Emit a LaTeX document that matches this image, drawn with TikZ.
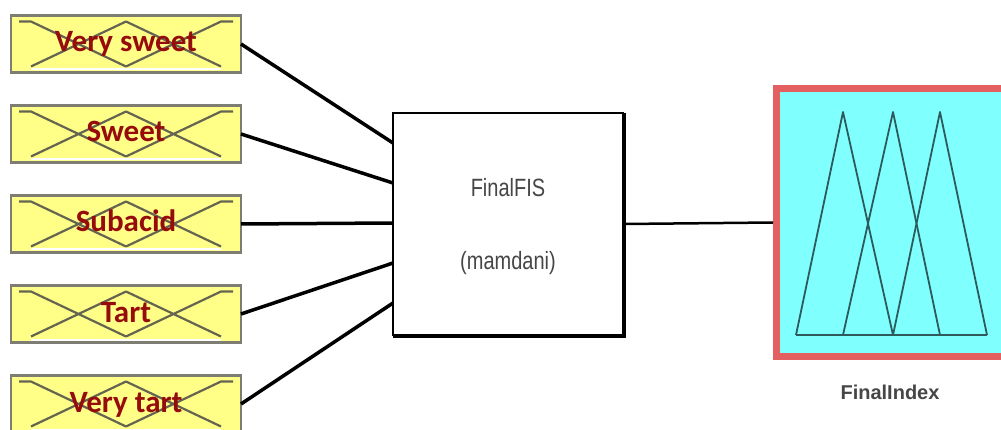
\documentclass[tikz,border=0pt]{standalone}
\usepackage{graphicx}
\usepackage{fontspec}
\setmainfont{Liberation Sans}
\newfontfamily\calib{Carlito}
\usetikzlibrary{calc}
\definecolor{inyellow}{RGB}{255,255,136}
\definecolor{inborder}{RGB}{125,125,115}
\definecolor{mfline}{RGB}{100,100,80}
\definecolor{labred}{RGB}{150,12,12}
\definecolor{outcyan}{RGB}{128,255,255}
\definecolor{outred}{RGB}{228,96,96}
\definecolor{tri}{RGB}{45,90,90}
\definecolor{fistext}{RGB}{70,70,70}
\begin{document}
\begin{tikzpicture}[x=1pt,y=-1pt,
  inbox/.style={draw=inborder, line width=2.5pt, fill=inyellow, minimum width=230pt, minimum height=57pt, inner sep=0pt, outer sep=0pt},
  mfl/.style={draw=mfline, line width=2.2pt, line join=round},
  inlabel/.style={text=labred, font=\calib\bfseries\fontsize{31}{32}\selectfont, inner sep=0pt, anchor=base},
  conn/.style={draw=black, line width=3.5pt},
  fisbox/.style={draw=black, line width=2.5pt, fill=white, minimum width=230pt, minimum height=222pt, inner sep=0pt, outer sep=1.25pt},
  fistxt/.style={text=fistext, font=\fontsize{20}{22}\selectfont, inner sep=0pt},
  outbox/.style={draw=outred, line width=7pt, fill=outcyan, minimum width=230pt, minimum height=268pt, inner sep=0pt, outer sep=3.5pt},
  trl/.style={draw=tri, line width=1.8pt, line join=round},
  outlabel/.style={text=fistext, font=\bfseries\fontsize{20}{22}\selectfont, inner sep=0pt}
]
\useasboundingbox (0,0) rectangle (1001,430);
\clip (0,0) rectangle (1001,430);

% input variables
\foreach \i/\t/\cy in {1/Very sweet/44, 2/Sweet/134, 3/Subacid/224, 4/Tart/314, 5/Very tart/404} {
  \node[inbox] (in\i) at (126,\cy) {};
  \coordinate (tl\i) at ($(in\i.north west)+(20,6)$);
  \coordinate (bl\i) at ($(in\i.south west)+(20,-6)$);
  \coordinate (tm\i) at ($(in\i.north)+(0,6)$);
  \coordinate (bm\i) at ($(in\i.south)+(0,-6)$);
  \coordinate (tr\i) at ($(in\i.north east)+(-20,6)$);
  \coordinate (br\i) at ($(in\i.south east)+(-20,-6)$);
  \draw[white, line width=2pt] ($(bl\i)+(0,3)$) -- ($(br\i)+(0,3)$);
  \draw[mfl] ($(in\i.north west)+(8,6)$) -- (tl\i) -- (bm\i);
  \draw[mfl] (bl\i) -- (tm\i) -- (br\i);
  \draw[mfl] (bm\i) -- (tr\i) -- ($(in\i.north east)+(-8,6)$);
  \node[inlabel] (lab\i) at (126,\cy+8) {\t};
}

% FIS block
\node[fisbox] (fis) at (508,224) {};
\draw[black, line width=2.5pt] ($(fis.north east)+(0.3,1)$) -- ($(fis.south east)+(0.3,0.3)$) -- ($(fis.south west)+(1,0.3)$);
\node[fistxt] (fisname) at (508,188) {\scalebox{1}[1.25]{FinalFIS}};
\node[fistxt] (fistype) at (508,263) {\scalebox{1}[1.25]{(mamdani)}};

\foreach \i in {1,...,5} {
  \coordinate (p\i) at (393,{103+40*\i});
  \draw[conn] (in\i.east) -- (p\i);
}

% output variable
\node[outbox] (out) at (891.5,222.5) {};
\draw[black, line width=2.5pt] (fis.east) -- (out.west);
\draw[trl] (796,335) -- (987,335);
\draw[trl] (796,335) -- (843,112) -- (893,335);
\draw[trl] (843,335) -- (893,112) -- (940,335);
\draw[trl] (893,335) -- (940,112) -- (987,335);
\node[outlabel] (outname) at (890,392) {FinalIndex};
\end{tikzpicture}
\end{document}
